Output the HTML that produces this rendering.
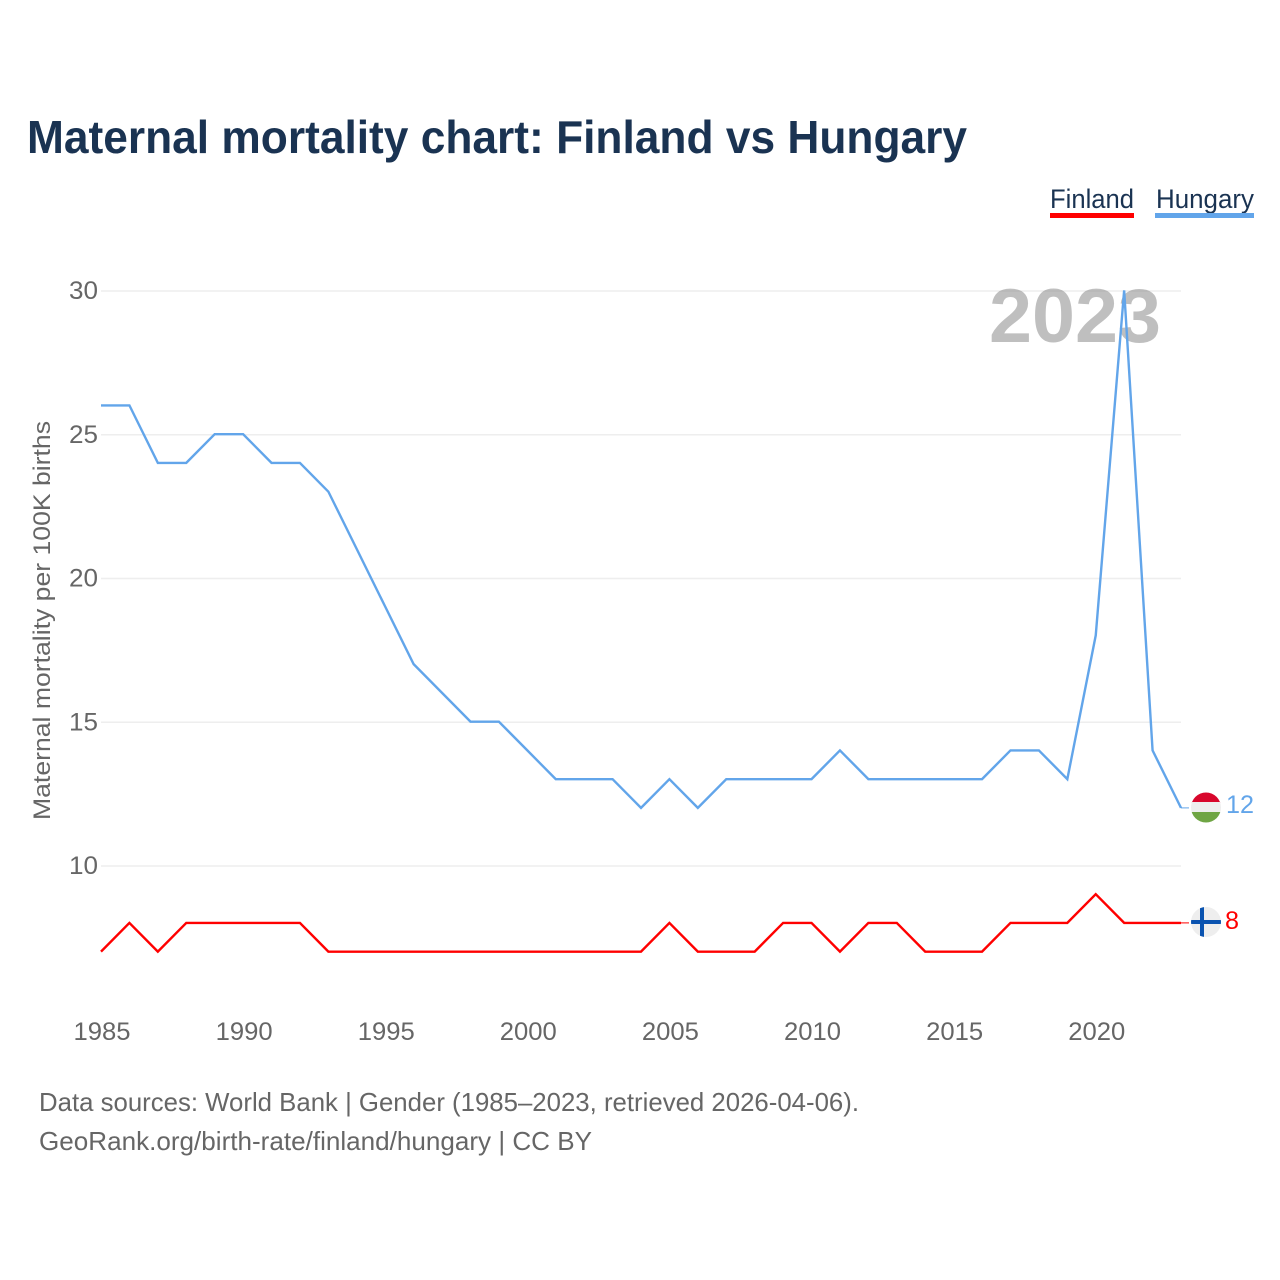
<!DOCTYPE html>
<html lang="en">
<head>
<meta charset="utf-8">
<title>Maternal mortality chart: Finland vs Hungary</title>
<style>
html,body{margin:0;padding:0;background:#fff;width:1280px;height:1280px;overflow:hidden}
svg{display:block;font-family:"Liberation Sans",sans-serif}
</style>
</head>
<body>
<svg id="chart" width="1280" height="1280" viewBox="0 0 1280 1280" xmlns="http://www.w3.org/2000/svg">
  <defs>
    <clipPath id="clip-hu"><circle cx="1206" cy="807.5" r="15"/></clipPath>
    <clipPath id="clip-fi"><circle cx="1206" cy="922" r="15"/></clipPath>
  </defs>
  <text x="27" y="153" font-size="46" font-weight="700" fill="#1a3352" textLength="940" lengthAdjust="spacingAndGlyphs">Maternal mortality chart: Finland vs Hungary</text>

  <g>
    <g style="cursor:pointer">
      <text x="1050" y="208" font-size="26.5" fill="#1a3352" textLength="84" lengthAdjust="spacingAndGlyphs">Finland</text>
      <rect x="1050" y="213" width="84" height="5" fill="#ff0000"/>
    </g>
    <g style="cursor:pointer">
      <text x="1156" y="208" font-size="26.5" fill="#1a3352" textLength="98" lengthAdjust="spacingAndGlyphs">Hungary</text>
      <rect x="1155" y="213" width="99" height="5" fill="#62a5ea"/>
    </g>
  </g>

  <g id="grid"></g>
  <g id="yticks"></g>
  <g id="xticks"></g>

  <text transform="translate(50,820) rotate(-90)" x="0" y="0" font-size="24.5" fill="#666666" textLength="399" lengthAdjust="spacingAndGlyphs">Maternal mortality per 100K births</text>

  <text x="989" y="342" font-size="76" font-weight="700" fill="#808080" fill-opacity="0.5" textLength="172" lengthAdjust="spacingAndGlyphs">2023</text>

  <g id="series"></g>

  <g clip-path="url(#clip-hu)">
    <rect x="1191" y="792" width="30" height="11" fill="#d8072c"/>
    <rect x="1191" y="802" width="30" height="11" fill="#eeeeee"/>
    <rect x="1191" y="812" width="30" height="12" fill="#6fa544"/>
  </g>
  <g clip-path="url(#clip-fi)">
    <rect x="1191" y="907" width="30" height="30" fill="#eeeeee"/>
    <rect x="1191" y="920" width="30" height="4" fill="#0a53b0"/>
    <rect x="1200" y="907" width="4" height="30" fill="#0a53b0"/>
  </g>

  <text x="1226" y="813" font-size="25" fill="#62a5ea" textLength="28" lengthAdjust="spacingAndGlyphs">12</text>
  <text x="1225" y="929" font-size="25" fill="#ff0000" textLength="14" lengthAdjust="spacingAndGlyphs">8</text>

  <text x="39" y="1111" font-size="26" fill="#666666" textLength="820" lengthAdjust="spacingAndGlyphs">Data sources: World Bank | Gender (1985–2023, retrieved 2026-04-06).</text>
  <text x="39" y="1150" font-size="26" fill="#666666" textLength="553" lengthAdjust="spacingAndGlyphs">GeoRank.org/birth-rate/finland/hungary | CC BY</text>
</svg>
<script>
const years = [1985,1986,1987,1988,1989,1990,1991,1992,1993,1994,1995,1996,1997,1998,1999,2000,2001,2002,2003,2004,2005,2006,2007,2008,2009,2010,2011,2012,2013,2014,2015,2016,2017,2018,2019,2020,2021,2022,2023];
const hungaryValues = [26,26,24,24,25,25,24,24,23,21,19,17,16,15,15,14,13,13,13,12,13,12,13,13,13,13,14,13,13,13,13,13,14,14,13,18,30,14,12];
const finlandValues = [7,8,7,8,8,8,8,8,7,7,7,7,7,7,7,7,7,7,7,7,8,7,7,7,8,8,7,8,8,7,7,7,8,8,8,9,8,8,8];
const yTickValues = [10,15,20,25,30];
const xTickValues = [1985,1990,1995,2000,2005,2010,2015,2020];

const NS = 'http://www.w3.org/2000/svg';
function xScale(year){ return 101 + (year - 1985) * (1181 - 101) / (2023 - 1985); }
function yScale(value){ return 866 - (value - 10) * (866 - 291) / (30 - 10); }
function lineY(value){ return yScale(value) - 0.6; }

const grid = document.getElementById('grid');
const yticks = document.getElementById('yticks');
yTickValues.forEach(function(v){
  const line = document.createElementNS(NS, 'line');
  
  
  line.setAttribute('x1', 101);
  line.setAttribute('x2', 1181);
  line.setAttribute('y1', yScale(v));
  line.setAttribute('y2', yScale(v));
  line.setAttribute('stroke', '#eeeeee');
  line.setAttribute('stroke-width', '1.5');
  grid.appendChild(line);

  const t = document.createElementNS(NS, 'text');
  
  
  t.setAttribute('x', 98);
  t.setAttribute('y', yScale(v) + 8);
  t.setAttribute('text-anchor', 'end');
  t.setAttribute('font-size', '25');
  t.setAttribute('fill', '#666666');
  t.setAttribute('textLength', '29');
  t.setAttribute('lengthAdjust', 'spacingAndGlyphs');
  t.textContent = String(v);
  yticks.appendChild(t);
});

const xticks = document.getElementById('xticks');
xTickValues.forEach(function(y){
  const t = document.createElementNS(NS, 'text');
  
  
  t.setAttribute('x', xScale(y) + 1);
  t.setAttribute('y', 1040);
  t.setAttribute('text-anchor', 'middle');
  t.setAttribute('font-size', '25');
  t.setAttribute('fill', '#666666');
  t.setAttribute('textLength', '57');
  t.setAttribute('lengthAdjust', 'spacingAndGlyphs');
  t.textContent = String(y);
  xticks.appendChild(t);
});

const series = document.getElementById('series');
function drawSeries(values, color, name){
  const d = values.map(function(v, i){
    return (i ? 'L' : 'M') + xScale(years[i]).toFixed(2) + ' ' + lineY(v).toFixed(2);
  }).join(' ');
  const p = document.createElementNS(NS, 'path');
  
  
  p.setAttribute('d', d);
  p.setAttribute('fill', 'none');
  p.setAttribute('stroke', color);
  p.setAttribute('stroke-width', '2.4');
  p.setAttribute('stroke-linejoin', 'miter');
  series.appendChild(p);

  const last = values[values.length - 1];
  const c = document.createElementNS(NS, 'line');
  
  
  c.setAttribute('x1', xScale(years[years.length - 1]));
  c.setAttribute('x2', xScale(years[years.length - 1]) + 8);
  c.setAttribute('y1', lineY(last));
  c.setAttribute('y2', lineY(last));
  c.setAttribute('stroke', color);
  c.setAttribute('stroke-width', '1');
  series.appendChild(c);
}
drawSeries(finlandValues, '#ff0000', 'line-finland');
drawSeries(hungaryValues, '#62a5ea', 'line-hungary');
</script>
</body>
</html>
